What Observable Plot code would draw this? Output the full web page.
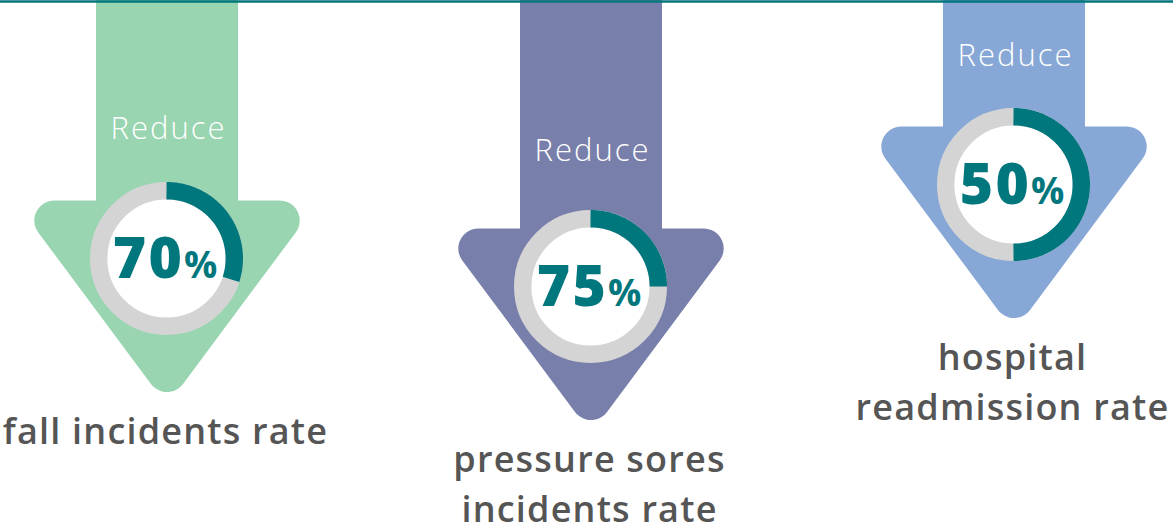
<!DOCTYPE html>
<html>
<head>
<meta charset="utf-8">
<script src="https://cdn.jsdelivr.net/npm/d3@7"></script>
<script src="https://cdn.jsdelivr.net/npm/@observablehq/plot@0.6"></script>
<style>
  html, body { margin: 0; padding: 0; background: #ffffff; }
  #chart { width: 1173px; height: 527px; overflow: hidden; }
</style>
</head>
<body>
<div id="chart"></div>
<script>
// ---- data ----
const categories = ["fall incidents rate", "pressure sores incidents rate", "hospital readmission rate"];
const labelLines = ["fall incidents rate", "pressure sores\nincidents rate", "hospital\nreadmission rate"];
const actions = ["Reduce", "Reduce", "Reduce"];
const values = [70, 75, 50]; // percent reduction

// ---- styles / layout (not data) ----
const arrowColors = ["#98d5b0", "#797fab", "#87a7d6"];
const teal = "#00767d";
const ringGray = "#d4d4d4";
const labelColor = "#555555";
const centerX = [166, 590, 1013];
const centerY = [258, 286, 184];
const reduceBaseline = [138, 160, 65];
const W = 1173, H = 527;
const ringR = 67.8, ringW = 17.4;
const cornerR = 20;
const fontFamily = "'Open Sans', 'DejaVu Sans', sans-serif";

const rows = categories.map((c, i) => ({
  i, category: c, label: labelLines[i], action: actions[i], value: values[i],
  cx: centerX[i], cy: centerY[i], ry: reduceBaseline[i], color: arrowColors[i]
}));

// inset a convex polygon (screen coords, clockwise) by r
function inset(pts, r) {
  const n = pts.length, out = [];
  const normals = pts.map((p, k) => {
    const q = pts[(k + 1) % n];
    const dx = q[0] - p[0], dy = q[1] - p[1], L = Math.hypot(dx, dy);
    return [-dy / L, dx / L];
  });
  for (let k = 0; k < n; k++) {
    const n1 = normals[(k - 1 + n) % n], n2 = normals[k];
    const d = 1 + n1[0] * n2[0] + n1[1] * n2[1];
    out.push([pts[k][0] + r * (n1[0] + n2[0]) / d, pts[k][1] + r * (n1[1] + n2[1]) / d]);
  }
  return out;
}

const marks = [];
rows.forEach(d => {
  const T = d.cy - 58;
  // shaft
  marks.push(Plot.rect([d], {x1: d.cx - 70, x2: d.cx + 72, y1: 0, y2: T + 30, fill: d.color}));
  // head (rounded triangle)
  const sharp = [[d.cx - 152, T], [d.cx + 153, T], [d.cx + 0.5, T + 205]];
  const pts = inset(sharp, cornerR).map(p => ({x: p[0], y: p[1]}));
  marks.push(Plot.line(pts, {x: "x", y: "y", curve: "linear-closed", fill: d.color, stroke: d.color,
    strokeWidth: cornerR * 2, strokeLinejoin: "round"}));
});

// ring background
marks.push(Plot.dot(rows, {x: "cx", y: "cy", r: ringR, fill: "white", stroke: ringGray, strokeWidth: ringW}));

// teal arc: remaining share, clockwise from 12 o'clock
const arcPts = rows.flatMap(d => {
  const frac = (100 - d.value) / 100, N = 120;
  return d3.range(N + 1).map(t => {
    const a = frac * 2 * Math.PI * t / N;
    return {i: d.i, x: d.cx + ringR * Math.sin(a), y: d.cy - ringR * Math.cos(a)};
  });
});
marks.push(Plot.line(arcPts, {x: "x", y: "y", z: "i", stroke: teal, strokeWidth: ringW,
  strokeLinecap: "butt", strokeLinejoin: "round"}));

// "Reduce"
const fsR = 31;
marks.push(Plot.text(rows, {x: d => d.cx + 2, y: d => d.ry - 0.32 * fsR, text: "action", fill: "white",
  fontSize: fsR, fontWeight: 300, fontFamily}));
// value number
const fsN = 57;
marks.push(Plot.text(rows, {x: d => d.cx + 18, y: d => d.cy + 19 - 0.32 * fsN, text: d => String(d.value),
  textAnchor: "end", fill: teal, fontSize: fsN, fontWeight: 800, fontFamily}));
const fsP = 37;
marks.push(Plot.text(rows, {x: d => d.cx + 17.5, y: d => d.cy + 19 - 0.32 * fsP, text: d => "%",
  textAnchor: "start", fill: teal, fontSize: fsP, fontWeight: 700, fontFamily}));
// category labels
const fsL = 36, lhL = 50.5;
marks.push(Plot.text(rows, {x: d => d.cx - 1, y: d => d.cy + 185 - 0.71 * lhL, text: "label", lineAnchor: "top",
  lineHeight: lhL / fsL, fill: labelColor, fontSize: fsL, fontWeight: 600, fontFamily}));

// top rule
marks.push(Plot.ruleY([1], {stroke: teal, strokeWidth: 2.5}));

const chart = Plot.plot({
  width: W, height: H, margin: 0,
  x: {domain: [0, W], range: [0, W], axis: null},
  y: {domain: [0, H], range: [0, H], axis: null},
  style: {background: "white", fontFamily},
  marks
});
document.getElementById("chart").appendChild(chart);
// widen letter spacing to mimic the reference's wide geometric face
const spacing = {[fsR]: 2, [fsN]: 2.5, [fsL]: 1.2};
chart.querySelectorAll("text").forEach(t => {
  const fs = parseFloat(t.getAttribute("font-size") || t.parentNode.getAttribute("font-size"));
  if (spacing[fs] != null) t.setAttribute("letter-spacing", spacing[fs]);
});
</script>
</body>
</html>
